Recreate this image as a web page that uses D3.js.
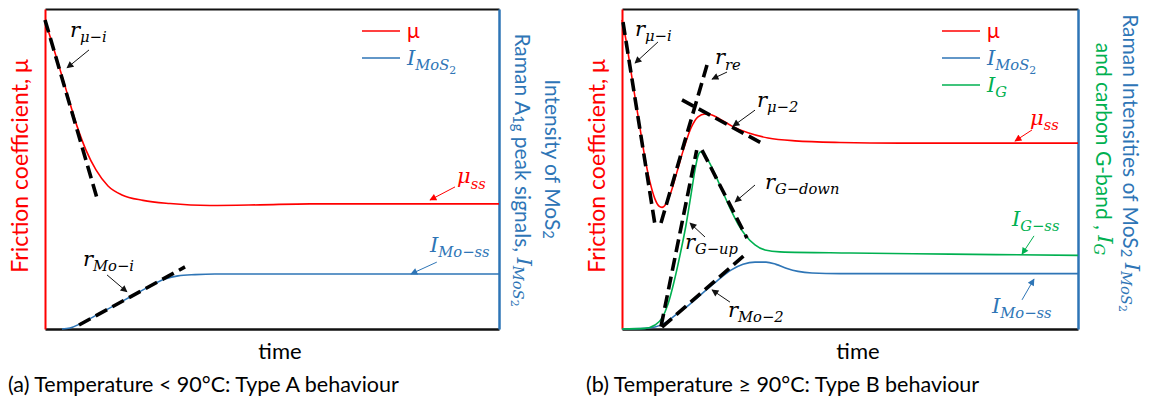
<!DOCTYPE html>
<html>
<head>
<meta charset="utf-8">
<script src="https://cdn.jsdelivr.net/npm/d3@7"></script>
<style>
  body { margin: 0; background: #fff; }
  svg { display: block; }
</style>
</head>
<body>
<svg id="chart" width="1152" height="399"></svg>
<script>
const RED = "#ff0000", BLUE = "#2e75b6", GREEN = "#00b050";
const SANS = "Lato, 'Open Sans', sans-serif";
const SERIF = "'DejaVu Serif', serif";

// ---- panel (a) data: time 0..100, normalised signal 0..1
const aMuTime = [0, 2.2, 4.41, 7.05, 9.03, 11.23, 13.88, 16.96, 21.59, 27.53, 36.34, 47.36, 58.37, 100];
const aMu     = [0.966, 0.863, 0.759, 0.634, 0.559, 0.497, 0.447, 0.419, 0.402, 0.392, 0.386, 0.388, 0.391, 0.391];
const aMoTime = [3.74, 5.51, 7.71, 11.01, 14.32, 18.72, 23.13, 26.43, 29.3, 33.04, 37.44, 100];
const aMo     = [0, 0.003, 0.016, 0.041, 0.066, 0.1, 0.134, 0.156, 0.166, 0.17, 0.172, 0.172];

// ---- panel (b) data
const bMuTime = [0, 0.88, 1.75, 2.85, 3.95, 5.04, 6.14, 7.24, 8.11, 8.77, 9.65, 10.75, 12.06, 13.6, 15.13, 16.67, 18.2, 19.74, 21.49, 24.12, 27.63, 32.02, 37.94, 47.81, 60.96, 100];
const bMu     = [0.966, 0.903, 0.825, 0.725, 0.628, 0.534, 0.459, 0.406, 0.384, 0.38, 0.391, 0.428, 0.491, 0.566, 0.628, 0.663, 0.672, 0.669, 0.656, 0.634, 0.613, 0.597, 0.588, 0.583, 0.581, 0.581];
const bGTime  = [0, 5.04, 7.24, 8.77, 10.09, 11.4, 12.72, 14.04, 15.13, 16.01, 16.67, 17.21, 17.98, 19.08, 20.39, 21.93, 23.68, 25.44, 27.19, 29.17, 31.36, 34.65, 50, 71.93, 100];
const bG      = [0, 0.002, 0.0125, 0.034, 0.078, 0.147, 0.231, 0.325, 0.419, 0.497, 0.541, 0.553, 0.547, 0.522, 0.484, 0.434, 0.378, 0.328, 0.291, 0.263, 0.247, 0.241, 0.2375, 0.234, 0.23];
const bMoTime = [0, 5.04, 7.24, 9.43, 12.06, 14.91, 17.98, 21.05, 23.9, 26.54, 29.17, 31.58, 33.77, 36.18, 38.6, 41.67, 47.81, 100];
const bMo     = [0, 0.002, 0.006, 0.019, 0.047, 0.078, 0.116, 0.153, 0.184, 0.202, 0.209, 0.209, 0.202, 0.189, 0.18, 0.175, 0.173, 0.173];

// tangent (rate) lines, [time, value] end points
const aTangents = [
  [[0, 0.966], [11.45, 0.409]],      // r mu-i
  [[7.49, 0.0125], [30.84, 0.194]]   // r Mo-i
];
const bTangents = [
  [[0.22, 0.959], [7.24, 0.325]],    // r mu-i
  [[8.55, 0.331], [18.64, 0.825]],   // r re
  [[13.16, 0.716], [31.36, 0.575]],  // r mu-2
  [[8.55, 0.0075], [16.38, 0.559]],  // r G-up
  [[17.54, 0.559], [27.41, 0.284]],  // r G-down
  [[8.77, 0.006], [27.41, 0.2375]]   // r Mo-2
];

// annotations: label parts [text, level, kind], text anchor, arrow from -> to (data units)
const aNotes = [
  { parts: [["r", 0, "m"], ["μ−i", 1, "m"]], at: [5.51, 0.913], from: [9.69, 0.872], to: [4.85, 0.816], color: "#111" },
  { parts: [["μ", 0, "m"], ["ss", 1, "m"]], at: [90.75, 0.456], from: [90.31, 0.444], to: [84.8, 0.403], color: RED },
  { parts: [["r", 0, "m"], ["Mo−i", 1, "m"]], at: [8.37, 0.197], from: [13.66, 0.169], to: [18.06, 0.116], color: "#111" },
  { parts: [["I", 0, "m"], ["Mo−ss", 1, "m"]], at: [84.8, 0.241], from: [86.3, 0.209], to: [80.6, 0.172], color: BLUE }
];
const bNotes = [
  { parts: [["r", 0, "m"], ["μ−i", 1, "m"]], at: [2.85, 0.916], from: [7.89, 0.897], to: [2.85, 0.831], color: "#111" },
  { parts: [["r", 0, "m"], ["re", 1, "m"]], at: [20.39, 0.828], from: [23.03, 0.803], to: [19.74, 0.781], color: "#111" },
  { parts: [["r", 0, "m"], ["μ−2", 1, "m"]], at: [29.61, 0.694], from: [29.17, 0.684], to: [24.34, 0.634], color: "#111" },
  { parts: [["r", 0, "m"], ["G−down", 1, "m"]], at: [31.36, 0.4375], from: [29.17, 0.45], to: [24.78, 0.397], color: "#111" },
  { parts: [["r", 0, "m"], ["G−up", 1, "m"]], at: [13.82, 0.25], from: [18.2, 0.2875], to: [14.91, 0.331], color: "#111" },
  { parts: [["r", 0, "m"], ["Mo−2", 1, "m"]], at: [23.25, 0.0375], from: [23.68, 0.084], to: [19.74, 0.122], color: "#111" },
  { parts: [["μ", 0, "m"], ["ss", 1, "m"]], at: [89.47, 0.6375], from: [89.91, 0.622], to: [86.18, 0.5875], color: RED },
  { parts: [["I", 0, "m"], ["G−ss", 1, "m"]], at: [85.53, 0.322], from: [90.35, 0.291], to: [87.72, 0.234], color: GREEN },
  { parts: [["I", 0, "m"], ["Mo−ss", 1, "m"]], at: [81.14, 0.05], from: [87.72, 0.091], to: [90.35, 0.156], color: BLUE }
];

const svg = d3.select("#chart");
const defs = svg.append("defs");
[["#111", "k"], [RED, "r"], [BLUE, "b"], [GREEN, "g"]].forEach(([c, id]) => {
  defs.append("marker")
    .attr("id", "arrow-" + id)
    .attr("viewBox", "0 0 10 10")
    .attr("refX", 9).attr("refY", 5)
    .attr("markerWidth", 9).attr("markerHeight", 7)
    .attr("markerUnits", "userSpaceOnUse")
    .attr("orient", "auto")
    .append("path").attr("d", "M0,0 L10,5 L0,10 z").attr("fill", c);
});
const markerId = c => c === RED ? "r" : c === BLUE ? "b" : c === GREEN ? "g" : "k";

// text with sub / sub-sub levels
function mathText(g, x, y, parts, color, base) {
  const size = [base, base * 0.7, base * 0.52];
  const off = [0, base * 0.26, base * 0.42];
  const t = g.append("text").attr("x", x).attr("y", y).attr("fill", color);
  let lvl = 0;
  parts.forEach(([str, l, kind]) => {
    t.append("tspan")
      .attr("dy", off[l] - off[lvl])
      .attr("font-size", size[l])
      .style("font-family", kind === "s" ? SANS : SERIF)
      .style("font-style", kind === "m" ? "italic" : "normal")
      .text(str);
    lvl = l;
  });
  return t;
}

function panel(opts) {
  const x = d3.scaleLinear().domain([0, 100]).range([opts.left, opts.right]);
  const y = d3.scaleLinear().domain([0, 1]).range([329, 9]);
  const g = svg.append("g");

  // frame
  g.append("g").attr("transform", `translate(0,${y(1)})`)
    .call(d3.axisTop(x).tickValues([]).tickSizeOuter(0))
    .select(".domain").attr("stroke", "#111").attr("stroke-width", 2);
  g.append("g").attr("transform", `translate(0,${y(0)})`)
    .call(d3.axisBottom(x).tickValues([]).tickSizeOuter(0))
    .select(".domain").attr("stroke", "#111").attr("stroke-width", 2.5);
  g.append("g").attr("transform", `translate(${x(0)},0)`)
    .call(d3.axisLeft(y).tickValues([]).tickSizeOuter(0))
    .select(".domain").attr("stroke", RED).attr("stroke-width", 2);
  g.append("g").attr("transform", `translate(${x(100)},0)`)
    .call(d3.axisRight(y).tickValues([]).tickSizeOuter(0))
    .select(".domain").attr("stroke", BLUE).attr("stroke-width", 2.5);

  const line = d3.line().x(d => x(d[0])).y(d => y(d[1])).curve(d3.curveMonotoneX);
  opts.series.forEach(s => {
    g.append("path")
      .datum(d3.zip(s.t, s.v))
      .attr("fill", "none")
      .attr("stroke", s.color)
      .attr("stroke-width", 1.6)
      .attr("d", line);
  });

  g.selectAll(".tangent")
    .data(opts.tangents)
    .join("line")
    .attr("class", "tangent")
    .attr("x1", d => x(d[0][0])).attr("y1", d => y(d[0][1]))
    .attr("x2", d => x(d[1][0])).attr("y2", d => y(d[1][1]))
    .attr("stroke", "#000")
    .attr("stroke-width", 3.6)
    .attr("stroke-dasharray", "13,6");

  opts.notes.forEach(n => {
    g.append("line")
      .attr("x1", x(n.from[0])).attr("y1", y(n.from[1]))
      .attr("x2", x(n.to[0])).attr("y2", y(n.to[1]))
      .attr("stroke", n.color).attr("stroke-width", 1)
      .attr("marker-end", `url(#arrow-${markerId(n.color)})`);
    mathText(g, x(n.at[0]), y(n.at[1]), n.parts, n.color === "#111" ? "#000" : n.color, 21);
  });

  // legend
  opts.legend.forEach((l, i) => {
    const ly = 31 + i * 27;
    g.append("line")
      .attr("x1", opts.legendX).attr("x2", opts.legendX + 38)
      .attr("y1", ly).attr("y2", ly)
      .attr("stroke", l.color).attr("stroke-width", 1.6);
    mathText(g, opts.legendX + 45, ly + 7, l.parts, l.color, 21);
  });

  // x axis title and caption
  g.append("text")
    .attr("x", (opts.left + opts.right) / 2 + 8).attr("y", 359)
    .attr("text-anchor", "middle")
    .style("font-family", SANS).attr("font-size", 22)
    .text("time");
  g.append("text")
    .attr("x", opts.captionX).attr("y", 392)
    .style("font-family", SANS).attr("font-size", 21.5)
    .text(opts.caption);

  // left y title
  g.append("text")
    .attr("transform", `translate(${opts.left - 26},166) rotate(-90)`)
    .attr("text-anchor", "middle").attr("dominant-baseline", "central")
    .style("font-family", SANS).attr("font-size", 23)
    .attr("fill", RED)
    .text("Friction coefficient, μ");

  // right y titles
  opts.rightTitles.forEach(r => {
    mathText(g, 0, 0, r.parts, r.color, 21)
      .attr("transform", `translate(${r.x},${r.y}) rotate(90)`)
      .attr("text-anchor", "middle")
      .attr("dominant-baseline", "central");
  });
}

panel({
  left: 45, right: 499,
  series: [
    { t: aMuTime, v: aMu, color: RED },
    { t: aMoTime, v: aMo, color: BLUE }
  ],
  tangents: aTangents,
  notes: aNotes,
  legendX: 362,
  legend: [
    { parts: [["μ", 0, "s"]], color: RED },
    { parts: [["I", 0, "m"], ["MoS", 1, "m"], ["2", 2, "u"]], color: BLUE }
  ],
  captionX: 8,
  caption: "(a) Temperature < 90°C: Type A behaviour",
  rightTitles: [
    { x: 554, y: 159, color: BLUE, parts: [["Intensity of MoS", 0, "s"], ["2", 1, "s"]] },
    { x: 524, y: 170, color: BLUE, parts: [["Raman A", 0, "s"], ["1g", 1, "s"], [" peak signals, ", 0, "s"], ["I", 0, "m"], ["MoS", 1, "m"], ["2", 2, "u"]] }
  ]
});

panel({
  left: 622, right: 1078,
  series: [
    { t: bMuTime, v: bMu, color: RED },
    { t: bMoTime, v: bMo, color: BLUE },
    { t: bGTime, v: bG, color: GREEN }
  ],
  tangents: bTangents,
  notes: bNotes,
  legendX: 942,
  legend: [
    { parts: [["μ", 0, "s"]], color: RED },
    { parts: [["I", 0, "m"], ["MoS", 1, "m"], ["2", 2, "u"]], color: BLUE },
    { parts: [["I", 0, "m"], ["G", 1, "m"]], color: GREEN }
  ],
  captionX: 586,
  caption: "(b) Temperature ≥ 90°C: Type B behaviour",
  rightTitles: [
    { x: 1132, y: 163, color: BLUE, parts: [["Raman Intensities of MoS", 0, "s"], ["2", 1, "s"], [" ", 0, "s"], ["I", 0, "m"], ["MoS", 1, "m"], ["2", 2, "u"]] },
    { x: 1105, y: 149, color: GREEN, parts: [["and carbon G-band , ", 0, "s"], ["I", 0, "m"], ["G", 1, "m"]] }
  ]
});
</script>
</body>
</html>
